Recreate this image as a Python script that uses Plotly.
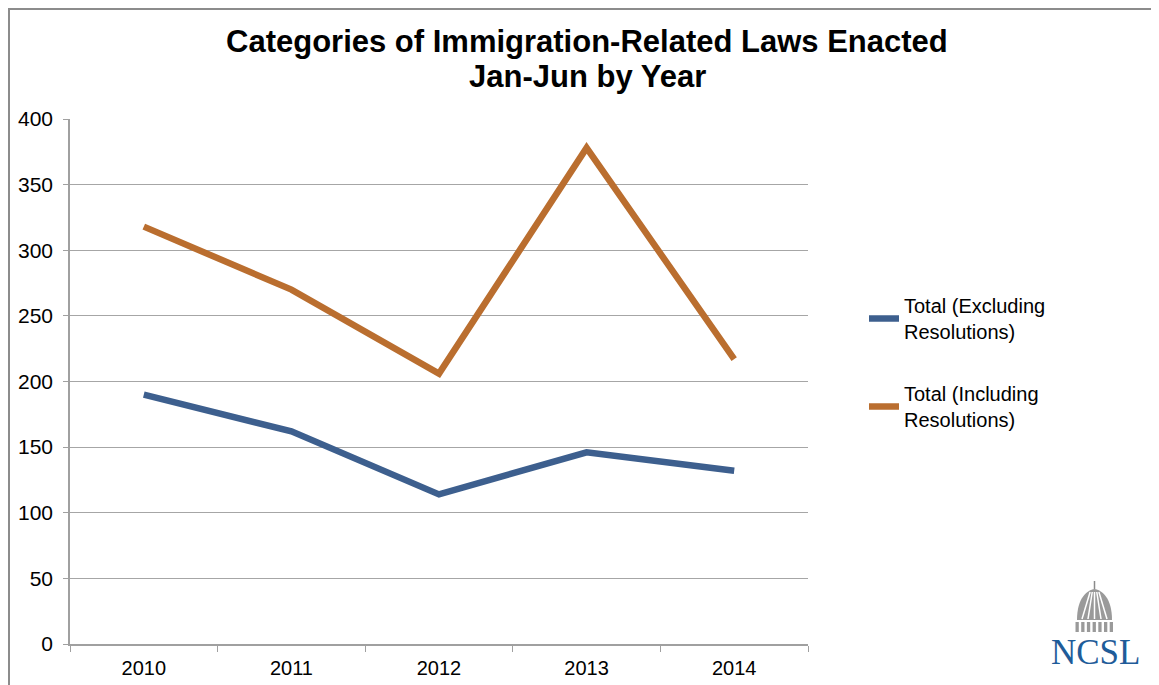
import plotly.graph_objects as go

years = ["2010", "2011", "2012", "2013", "2014"]
excluding = [190, 162, 114, 146, 132]
including = [318, 270, 206, 378, 217]
series_names = ["Total (Excluding<br>Resolutions)", "Total (Including<br>Resolutions)"]
y_ticks = [0, 50, 100, 150, 200, 250, 300, 350, 400]
title_lines = ["Categories of Immigration-Related Laws Enacted", "Jan-Jun by Year"]

OFF = 8  # page body margin
W, H = 1159 - OFF, 685 - OFF
L, R, T, B = 70 - OFF, 808 - OFF, 119 - OFF, 644 - OFF

def px(x):
    # x given in screenshot pixels
    return (x - OFF - L) / (R - L)

def py(y):
    return (B - (y - OFF)) / (B - T)

fig = go.Figure()
fig.add_trace(go.Scatter(x=years, y=excluding, mode="lines", name=series_names[0],
                         legendgroup="a", line=dict(color="#3D5F8E", width=6.5)))
fig.add_trace(go.Scatter(x=years, y=including, mode="lines", name=series_names[1],
                         legendgroup="b", line=dict(color="#BA6E2F", width=6.5)))

shapes = []
# outer frame
shapes.append(dict(type="rect", xref="paper", yref="paper",
                   x0=px(OFF + 1), x1=px(1200), y0=py(720), y1=py(OFF + 1),
                   line=dict(color="#8C8C8C", width=2), fillcolor="rgba(0,0,0,0)", layer="below"))
# NCSL logo dome
cx = 1094.5
dome = (f"M {px(1077)},{py(620)} C {px(1077)},{py(598)} {px(1087)},{py(590)} {px(cx)},{py(589)} "
        f"C {px(1102)},{py(590)} {px(1112)},{py(598)} {px(1112)},{py(620)} Z")
shapes.append(dict(type="path", xref="paper", yref="paper", path=dome,
                   fillcolor="#9A9A9A", line=dict(width=0)))
for sx in [1082, 1088, 1094.5, 1101, 1107]:
    shapes.append(dict(type="line", xref="paper", yref="paper",
                       x0=px(sx), y0=py(619), x1=px(cx + (sx - cx) * 0.35), y1=py(592),
                       line=dict(color="white", width=1.5)))
shapes.append(dict(type="line", xref="paper", yref="paper", x0=px(cx), x1=px(cx), y0=py(589), y1=py(581),
                   line=dict(color="#8A8A8A", width=1.5)))
for i in range(7):
    x0 = 1075.5 + i * 5.7
    shapes.append(dict(type="rect", xref="paper", yref="paper", x0=px(x0), x1=px(x0 + 3.3),
                       y0=py(632), y1=py(622), fillcolor="#9A9A9A", line=dict(width=0)))

annotations = [
    dict(text=f"<b>{title_lines[0]}</b>", xref="paper", yref="paper", x=px(587), y=py(41),
         xanchor="center", yanchor="middle", showarrow=False, font=dict(size=31, color="black")),
    dict(text=f"<b>{title_lines[1]}</b>", xref="paper", yref="paper", x=px(587), y=py(77),
         xanchor="center", yanchor="middle", showarrow=False, font=dict(size=31, color="black")),
    dict(text="NCSL", xref="paper", yref="paper", x=px(1095), y=py(652),
         xanchor="center", yanchor="middle", showarrow=False,
         font=dict(family="Liberation Serif, DejaVu Serif, serif", size=35, color="#1F5C99")),
]

fig.update_layout(
    width=W, height=H,
    margin=dict(l=L, r=W - R, t=T, b=H - B, autoexpand=False),
    paper_bgcolor="white", plot_bgcolor="white",
    font=dict(family="Liberation Sans, Arial, sans-serif", size=20, color="black"),
    showlegend=True,
    legend=dict(x=px(864), y=py(286), xanchor="left", yanchor="top",
                font=dict(size=20), tracegroupgap=33, traceorder="grouped",
                itemwidth=30, bgcolor="rgba(0,0,0,0)"),
    shapes=shapes,
    annotations=annotations,
)

fig.update_xaxes(type="category", range=[-0.5, 4.5], showgrid=False, showline=True,
                 linecolor="#A0A0A0", linewidth=1.5, ticks="outside", tickson="boundaries",
                 ticklen=6, tickcolor="#A0A0A0", tickfont=dict(size=20), ticklabelstandoff=5,
                 fixedrange=True)
fig.update_yaxes(range=[0, 400], tickvals=y_ticks, showgrid=True, gridcolor="#A6A6A6", gridwidth=1,
                 showline=True, linecolor="#A0A0A0", linewidth=1.5, ticks="outside", ticklen=5,
                 tickcolor="#A0A0A0", tickfont=dict(size=21), ticklabelstandoff=6,
                 zeroline=False, fixedrange=True)

fig.write_html("out.html")
